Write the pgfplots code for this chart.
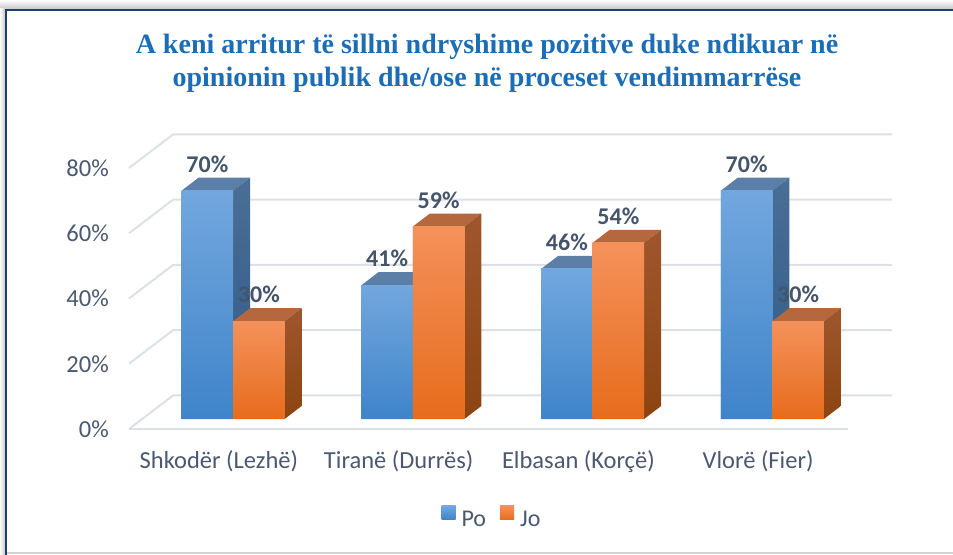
\documentclass[border=0pt]{standalone}
\usepackage{pgfplots}
\pgfplotsset{compat=1.18}
\usepackage{pgfplotstable}
\usepackage{fontspec}
\setmainfont{Carlito}
\newfontfamily\titlefont{Liberation Serif}

\definecolor{poTop}{HTML}{72A7DE}
\definecolor{poBot}{HTML}{3F84C9}
\definecolor{poCap}{HTML}{5B7FA6}
\definecolor{poSideT}{HTML}{4A6E96}
\definecolor{poSideB}{HTML}{2F5A88}
\definecolor{joTop}{HTML}{F4915B}
\definecolor{joBot}{HTML}{E66C1C}
\definecolor{joCap}{HTML}{B5673E}
\definecolor{joSideT}{HTML}{A0562D}
\definecolor{joSideB}{HTML}{8B4411}
\definecolor{gridc}{HTML}{DDE0E5}
\definecolor{txt}{HTML}{4A5870}
\definecolor{lbl}{HTML}{44546A}
\definecolor{titlec}{HTML}{1C6DB5}
\definecolor{framec}{HTML}{1F3C73}

\pgfdeclareplotmark{nothing}{}

\pgfplotstableread{
x   po  jo
0.5 70  30
1.5 41  59
2.5 46  54
3.5 70  30
}\datatable

\tikzset{vallabel/.style={anchor=base, text=lbl, inner sep=0pt, draw=none, fill=none,
    font=\bfseries\fontsize{24bp}{28bp}\selectfont}}

\pgfplotsset{
  facesPo/.style={
    only marks, mark=nothing, forget plot, scatter,
    visualization depends on={rawy \as \rawy},
    scatter/@pre marker code/.code={%
      \pgfmathsetmacro\negh{-\rawy}%
      \fill[poCap, draw=none] (-50.25bp,0pt) -- (-33.25bp,13bp) -- (18.25bp,13bp) -- (1.25bp,0pt) -- cycle;
      \shade[top color=poSideT, bottom color=poSideB, draw=none] (1.25bp,0pt) -- (18.25bp,13bp)
          -- ([shift={(18.25bp,13bp)}]axis direction cs:0,\negh)
          -- ([shift={(1.25bp,0pt)}]axis direction cs:0,\negh) -- cycle;
      \shade[top color=poTop, bottom color=poBot, draw=none] (-50.25bp,0pt) rectangle ([shift={(1.25bp,0pt)}]axis direction cs:0,\negh);
      \node[vallabel] at (-24.5bp,18.5bp) {\pgfmathprintnumber[assume math mode=true, fixed, precision=0]{\rawy}\%};
    },
    scatter/@post marker code/.code={},
  },
  facesJo/.style={
    only marks, mark=nothing, forget plot, scatter,
    visualization depends on={rawy \as \rawy},
    scatter/@pre marker code/.code={%
      \pgfmathsetmacro\negh{-\rawy}%
      \fill[joCap, draw=none] (1.25bp,0pt) -- (18.25bp,13bp) -- (69.75bp,13bp) -- (52.75bp,0pt) -- cycle;
      \shade[top color=joSideT, bottom color=joSideB, draw=none] (52.75bp,0pt) -- (69.75bp,13bp)
          -- ([shift={(69.75bp,13bp)}]axis direction cs:0,\negh)
          -- ([shift={(52.75bp,0pt)}]axis direction cs:0,\negh) -- cycle;
      \shade[top color=joTop, bottom color=joBot, draw=none] (1.25bp,0pt) rectangle ([shift={(52.75bp,0pt)}]axis direction cs:0,\negh);
      \node[vallabel] at (27bp,18.5bp) {\pgfmathprintnumber[assume math mode=true, fixed, precision=0]{\rawy}\%};
    },
    scatter/@post marker code/.code={},
  },
}

\begin{document}
\begin{tikzpicture}
\useasboundingbox (0,0) rectangle (953bp,555bp);
% frame and shadow
\shade[top color=white, bottom color=gray!45] (0bp,546bp) rectangle (953bp,555bp);
\shade[left color=white, right color=gray!45] (0bp,0bp) rectangle (5bp,546bp);
\draw[gray!35, line width=1.5bp] (6bp,2bp) -- (953bp,2bp);
\draw[framec, line width=2.5bp] (6bp,0bp) -- (6bp,545bp) -- (953bp,545bp);

% title
\node[font=\titlefont\bfseries\fontsize{28bp}{33bp}\selectfont, text=titlec, align=center]
  at (487bp,491.5bp) {A keni arritur të sillni ndryshime pozitive duke ndikuar në\\opinionin publik dhe/ose në proceset vendimmarrëse};

\begin{axis}[
  at={(142bp,136bp)}, anchor=south west,
  x=179.75bp, y=3.2625bp,
  xmin=0, xmax=4, ymin=0, ymax=80,
  clip=false,
  axis line style={draw=none},
  major tick length=0pt,
  xtick={0.5,1.5,2.5,3.5},
  xticklabels={Shkodër (Lezhë), Tiranë (Durrës), Elbasan (Korçë), Vlorë (Fier)},
  ytick={0,20,40,60,80},
  yticklabels={0\%,20\%,40\%,60\%,80\%},
  tick label style={font=\fontsize{24.5bp}{28bp}\selectfont, text=txt, inner sep=0pt},
  xticklabel style={anchor=base, xshift=-13bp, yshift=-49bp},
  yticklabel style={anchor=east, xshift=-33bp, yshift=-10bp},
  legend style={at={(axis description cs:0.4854,-0.3755)}, anchor=center, draw=none, fill=none,
    legend columns=2, font=\fontsize{24bp}{28bp}\selectfont, text=txt,
    inner sep=0pt, nodes={inner sep=0pt},
    /tikz/every odd column/.append style={column sep=6bp},
    /tikz/every even column/.append style={column sep=14bp}},
]
% walls and floor
\pgfplotsinvokeforeach{0,20,40,60,80}{
  \draw[gridc, line width=2bp] ([shift={(-13bp,-10bp)}]axis cs:0,#1) -- ([shift={(31bp,23.5bp)}]axis cs:0,#1) -- ([shift={(31bp,23.5bp)}]axis cs:4,#1);
}
\draw[gridc, line width=2bp] ([shift={(-13bp,-10bp)}]axis cs:0,0) -- ([shift={(-13bp,-10bp)}]axis cs:4,0);

% front faces (bars) and legend
\addplot[ybar, bar width=51.5bp, bar shift=-24.5bp, draw=none, top color=poTop, bottom color=poBot,
  legend image code/.code={\shade[top color=poTop, bottom color=poBot] (0bp,0bp) rectangle (14bp,14bp);}]
  table[x=x, y=po] {\datatable};
\addlegendentry{Po}
\addplot[ybar, bar width=51.5bp, bar shift=27bp, draw=none, top color=joTop, bottom color=joBot,
  legend image code/.code={\shade[top color=joTop, bottom color=joBot] (0bp,0bp) rectangle (14bp,14bp);}]
  table[x=x, y=jo] {\datatable};
\addlegendentry{Jo}
% 3D faces and value labels, drawn in depth order
\addplot[facesPo] table[x=x, y=po] {\datatable};
\addplot[facesJo] table[x=x, y=jo] {\datatable};
\end{axis}
\end{tikzpicture}
\end{document}
